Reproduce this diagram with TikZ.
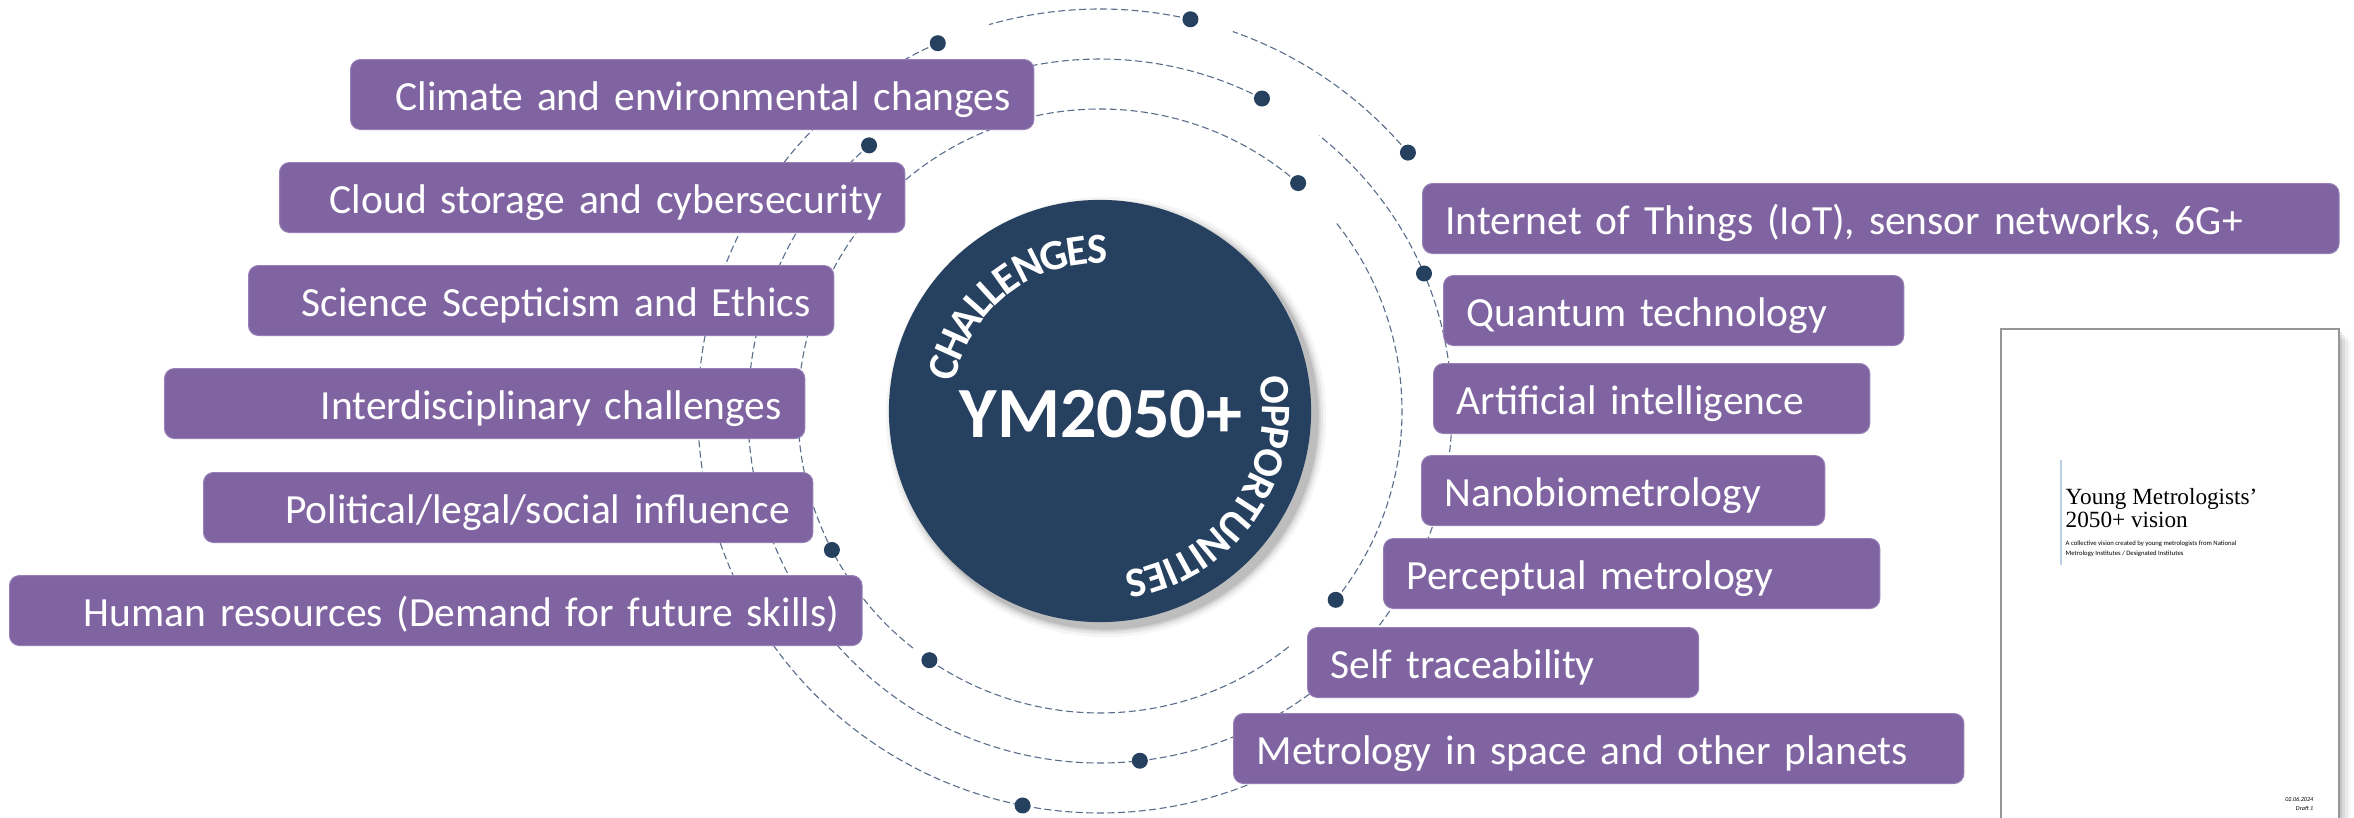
\documentclass[tikz,border=0pt]{standalone}
\usepackage{fontspec}
\setmainfont{Carlito}
\newfontfamily\thumbserif{Liberation Serif}
\usetikzlibrary{decorations.text}
\definecolor{boxpurple}{RGB}{128,100,162}
\definecolor{boxedge}{RGB}{150,128,182}
\definecolor{navy}{RGB}{38,64,96}
\definecolor{ringcol}{RGB}{90,110,140}
\definecolor{pageedge}{RGB}{150,150,150}
\definecolor{accentline}{RGB}{190,208,230}
\begin{document}
\begin{tikzpicture}[x=0.01cm,y=0.01cm,
  lbox/.style={rectangle, rounded corners=0.1cm, fill=boxpurple, draw=boxedge, line width=0.01cm,
    minimum height=0.7cm, inner xsep=0.23cm, inner ysep=0pt, text=white,
    font=\fontsize{11.8pt}{14pt}\selectfont, text height=0.34cm, text depth=0.03cm,
    anchor=north west, align=right},
  rbox/.style={lbox, align=left, text height=0.35cm},
  ring/.style={draw=ringcol, line width=0.011cm, dash pattern=on 0.07cm off 0.035cm},
  dot/.style={fill=navy},
  thumbtxt/.style={anchor=base west, inner sep=0pt, text=black},
]
\useasboundingbox (0,0) rectangle (2354,-818);
\fill[white] (0,0) rectangle (2354,-818);
\clip (0,0) rectangle (2354,-818);

% dashed orbit rings and dots
\begin{scope}[shift={(1100,-411)}]
  % outer ring r=402
  \draw[ring] (77:402) arc[start angle=77, end angle=106, radius=402];
  \draw[ring] (40:402) arc[start angle=40, end angle=70.7, radius=402];
  \draw[ring] (113.8:402) arc[start angle=113.8, end angle=300, radius=402];
  % middle ring r=352
  \draw[ring] (62.6:352) arc[start angle=62.6, end angle=120, radius=352];
  \draw[ring] (131:352) arc[start angle=131, end angle=411.5, radius=352];
  % inner ring r=302
  \draw[ring] (49:302) arc[start angle=49, end angle=232, radius=302];
  \draw[ring] (235.6:302) arc[start angle=235.6, end angle=309.3, radius=302];
  \draw[ring] (321.3:302) arc[start angle=321.3, end angle=398.8, radius=302];
  % dots
  \foreach \a in {113.8,77,40,258.9} \fill[dot] (\a:402) circle (8);
  \foreach \a in {62.6,131,23,276.5} \fill[dot] (\a:352) circle (8);
  \foreach \a in {49,207.4,235.6,321.3} \fill[dot] (\a:302) circle (8);
\end{scope}

% challenges (left)
\node[lbox, text width=6.37cm] (c1) at (350,-59)  {\mbox{Climate and environmental changes}};
\node[lbox, text width=5.79cm] (c2) at (279,-162) {\mbox{Cloud storage and cybersecurity}};
\node[lbox, text width=5.39cm] (c3) at (248,-265) {\mbox{Science Scepticism and Ethics}};
\node[lbox, text width=5.94cm] (c4) at (164,-368) {\mbox{Interdisciplinary challenges}};
\node[lbox, text width=5.63cm] (c5) at (203,-472) {\mbox{Political/legal/social influence}};
\node[lbox, text width=8.06cm] (c6) at (9,-575)   {\mbox{Human resources (Demand for future skills)}};

% opportunities (right)
\node[rbox, text width=8.70cm] (o1) at (1422,-183) {\mbox{Internet of Things (IoT), sensor networks, 6G+}};
\node[rbox, text width=4.14cm] (o2) at (1443,-275) {\mbox{Quantum technology}};
\node[rbox, text width=3.90cm] (o3) at (1433,-363) {\mbox{Artificial intelligence}};
\node[rbox, text width=3.57cm] (o4) at (1421,-455) {\mbox{Nanobiometrology}};
\node[rbox, text width=4.50cm] (o5) at (1383,-538) {\mbox{Perceptual metrology}};
\node[rbox, text width=3.45cm] (o6) at (1307,-627) {\mbox{Self traceability}};
\node[rbox, text width=6.84cm] (o7) at (1233,-713) {\mbox{Metrology in space and other planets}};

% central hub with soft shadow
\foreach \r/\o in {2.20/0.04, 2.17/0.06, 2.145/0.08, 2.125/0.10}
  \fill[black, opacity=\o] (1106,-417) circle (\r cm);
\node[circle, fill=navy, minimum size=4.22cm, inner sep=0pt] (hub) at (1100,-411) {};
\node[text=white, font=\fontsize{20.5pt}{24pt}\selectfont\bfseries, inner sep=0pt] (ym) at (1101,-414) {YM2050+};
\begin{scope}[shift={(1100,-411)}]
  \path[decorate, decoration={text along path, text align=center, raise=-0.14cm,
      text={|\fontsize{12.2pt}{14pt}\selectfont\bfseries\color{white}|CHALLENGES}}]
      (188:162) arc[start angle=188, end angle=68, radius=162];
  \path[decorate, decoration={text along path, text align=center, raise=-0.135cm,
      text={|\fontsize{11.95pt}{14pt}\selectfont\bfseries\color{white}|OPPORTUNITIES}}]
      (40:176) arc[start angle=40, end angle=-110, radius=176];
\end{scope}

% report thumbnail
\foreach \d/\o in {12/0.03, 9/0.05, 6/0.07, 3/0.09}
  \fill[black, opacity=\o] (2001+\d,-329-\d) rectangle (2339+\d,-860);
\draw[pageedge, fill=white, line width=0.012cm] (2001,-329) rectangle (2339,-860);
\draw[accentline, line width=0.015cm] (2061,-460) -- (2061,-565);
\node[thumbtxt, font=\thumbserif\fontsize{6.6pt}{7pt}\selectfont] (t1) at (2065,-504) {Young Metrologists’};
\node[thumbtxt, font=\thumbserif\fontsize{6.6pt}{7pt}\selectfont] (t2) at (2065,-527) {2050+ vision};
\node[thumbtxt, font=\fontsize{1.9pt}{2.2pt}\selectfont] (t3) at (2065,-545) {A collective vision created by young metrologists from National};
\node[thumbtxt, font=\fontsize{1.9pt}{2.2pt}\selectfont] (t4) at (2065,-555) {Metrology Institutes / Designated Institutes};
\node[anchor=base east, inner sep=0pt, font=\fontsize{1.75pt}{2pt}\selectfont\itshape] (t5) at (2314,-801) {02.06.2024};
\node[anchor=base east, inner sep=0pt, font=\fontsize{1.75pt}{2pt}\selectfont\itshape] (t6) at (2314,-810) {Draft 1};
\end{tikzpicture}
\end{document}
